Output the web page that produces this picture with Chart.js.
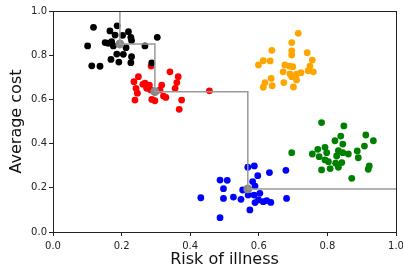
<!DOCTYPE html>
<html>
<head>
<meta charset="utf-8">
<script src="https://cdn.jsdelivr.net/npm/chart.js@4"></script>
<style>
  html, body { margin: 0; padding: 0; background: #fff; }
  #wrap { width: 403px; height: 269px; }
</style>
</head>
<body>
<div id="wrap"><canvas id="chart" width="403" height="269"></canvas></div>
<script>
// cluster points
const blackX = [0.118, 0.187, 0.166, 0.181, 0.203, 0.220, 0.227, 0.229, 0.304, 0.101, 0.152, 0.161, 0.171, 0.176, 0.213, 0.268, 0.186, 0.205, 0.229, 0.169, 0.192, 0.227, 0.113, 0.137, 0.288];
const blackY = [0.926, 0.933, 0.910, 0.891, 0.890, 0.906, 0.881, 0.866, 0.881, 0.842, 0.857, 0.854, 0.861, 0.842, 0.834, 0.842, 0.805, 0.804, 0.793, 0.781, 0.769, 0.766, 0.752, 0.750, 0.765];

const redX = [0.249, 0.236, 0.242, 0.246, 0.239, 0.268, 0.281, 0.273, 0.285, 0.317, 0.312, 0.322, 0.329, 0.288, 0.297, 0.341, 0.365, 0.361, 0.356, 0.375, 0.368, 0.456, 0.286, 0.278, 0.262];
const redY = [0.703, 0.680, 0.650, 0.628, 0.597, 0.673, 0.665, 0.650, 0.643, 0.665, 0.643, 0.615, 0.609, 0.600, 0.594, 0.725, 0.703, 0.676, 0.650, 0.597, 0.555, 0.639, 0.751, 0.658, 0.668];

const orangeX = [0.715, 0.696, 0.696, 0.696, 0.741, 0.638, 0.613, 0.633, 0.599, 0.676, 0.689, 0.699, 0.756, 0.749, 0.744, 0.759, 0.671, 0.691, 0.710, 0.723, 0.696, 0.710, 0.636, 0.618, 0.613, 0.639, 0.673, 0.701];
const orangeY = [0.899, 0.857, 0.820, 0.801, 0.811, 0.822, 0.775, 0.774, 0.756, 0.756, 0.751, 0.748, 0.778, 0.751, 0.730, 0.725, 0.725, 0.715, 0.714, 0.721, 0.703, 0.688, 0.695, 0.676, 0.655, 0.662, 0.676, 0.656];

const blueX = [0.568, 0.587, 0.597, 0.631, 0.679, 0.487, 0.508, 0.582, 0.589, 0.497, 0.553, 0.431, 0.497, 0.526, 0.548, 0.569, 0.586, 0.603, 0.599, 0.589, 0.613, 0.623, 0.635, 0.681, 0.574, 0.487];
const blueY = [0.293, 0.299, 0.255, 0.269, 0.279, 0.235, 0.234, 0.228, 0.208, 0.196, 0.190, 0.155, 0.152, 0.158, 0.148, 0.167, 0.167, 0.175, 0.145, 0.133, 0.137, 0.142, 0.134, 0.152, 0.100, 0.065];

const greenX = [0.696, 0.783, 0.848, 0.839, 0.822, 0.845, 0.912, 0.934, 0.908, 0.793, 0.772, 0.756, 0.776, 0.798, 0.832, 0.845, 0.861, 0.827, 0.887, 0.890, 0.793, 0.803, 0.824, 0.842, 0.832, 0.808, 0.783, 0.922, 0.919, 0.871];
const greenY = [0.359, 0.495, 0.480, 0.434, 0.413, 0.398, 0.439, 0.413, 0.389, 0.383, 0.374, 0.353, 0.341, 0.359, 0.368, 0.359, 0.353, 0.344, 0.367, 0.336, 0.326, 0.318, 0.311, 0.314, 0.293, 0.287, 0.281, 0.299, 0.284, 0.243];

// front points (grey) and step line
const frontX = [0.195, 0.297, 0.568];
const frontY = [0.851, 0.635, 0.195];

const xTicks = [0, 0.2, 0.4, 0.6, 0.8, 1.0];

function pts(xs, ys) {
    return xs.map((x, i) => ({ x: x, y: ys[i] }));
}

// step line: from top of axes, through front, to right edge
const stepData = [{ x: frontX[0], y: 1.0 }]
    .concat(pts(frontX, frontY))
    .concat([{ x: 1.0, y: frontY[frontY.length - 1] }]);

function dots(label, xs, ys, color) {
    return {
        type: 'scatter',
        label: label,
        data: pts(xs, ys),
        backgroundColor: color,
        borderColor: color,
        borderWidth: 0,
        pointRadius: 3.4,
        pointHoverRadius: 3.4
    };
}

const font = "'DejaVu Sans', sans-serif";

// box around the plot area like matplotlib spines
const frame = {
    id: 'frame',
    afterDraw(chart) {
        const a = chart.chartArea;
        const ctx = chart.ctx;
        ctx.save();
        ctx.strokeStyle = '#222';
        ctx.lineWidth = 1;
        ctx.strokeRect(Math.round(a.left) + 0.5, Math.round(a.top) + 0.5,
            Math.round(a.right - a.left), Math.round(a.bottom - a.top));
        ctx.restore();
    }
};

new Chart(document.getElementById('chart').getContext('2d'), {
    data: {
        datasets: [
            {
                type: 'line',
                label: 'front',
                data: stepData,
                stepped: 'before',
                borderColor: '#999999',
                borderWidth: 1.5,
                pointRadius: 0,
                fill: false
            },
            {
                type: 'scatter',
                label: 'front points',
                data: pts(frontX, frontY),
                backgroundColor: '#888888',
                borderWidth: 0,
                pointRadius: 4.5
            },
            dots('black', blackX, blackY, '#000000'),
            dots('red', redX, redY, '#ff0000'),
            dots('orange', orangeX, orangeY, '#ffa500'),
            dots('blue', blueX, blueY, '#0000ff'),
            dots('green', greenX, greenY, '#008000')
        ]
    },
    options: {
        responsive: false,
        animation: false,
        layout: { padding: { top: 11, right: 7, left: 0, bottom: 0 } },
        plugins: {
            legend: { display: false },
            tooltip: { enabled: false }
        },
        scales: {
            x: {
                type: 'linear',
                min: 0,
                max: 1,
                afterFit: function(scale) {
                    scale.height = 37;
                    scale.paddingLeft = 0;
                    scale.paddingRight = 0;
                },
                afterBuildTicks: function(scale) { scale.ticks = xTicks.map(v => ({ value: v })); },
                border: { display: false },
                grid: { drawOnChartArea: false, tickLength: 4, color: '#222' },
                ticks: {
                    padding: 4,
                    color: '#222',
                    font: { family: font, size: 10 },
                    callback: v => v.toFixed(1)
                },
                title: {
                    display: true,
                    text: 'Risk of illness',
                    color: '#111',
                    padding: { top: 0, bottom: 0 },
                    font: { family: font, size: 16 }
                }
            },
            y: {
                type: 'linear',
                min: 0,
                max: 1,
                afterFit: function(scale) {
                    scale.width = 53;
                    scale.paddingTop = 0;
                    scale.paddingBottom = 0;
                },
                afterBuildTicks: function(scale) { scale.ticks = xTicks.map(v => ({ value: v })); },
                border: { display: false },
                grid: { drawOnChartArea: false, tickLength: 4, color: '#222' },
                ticks: {
                    padding: 2,
                    color: '#222',
                    font: { family: font, size: 10 },
                    callback: v => v.toFixed(1)
                },
                title: {
                    display: true,
                    text: 'Average cost',
                    color: '#111',
                    padding: { top: 7, bottom: 0 },
                    font: { family: font, size: 16 }
                }
            }
        }
    },
    plugins: [frame]
});
</script>
</body>
</html>
